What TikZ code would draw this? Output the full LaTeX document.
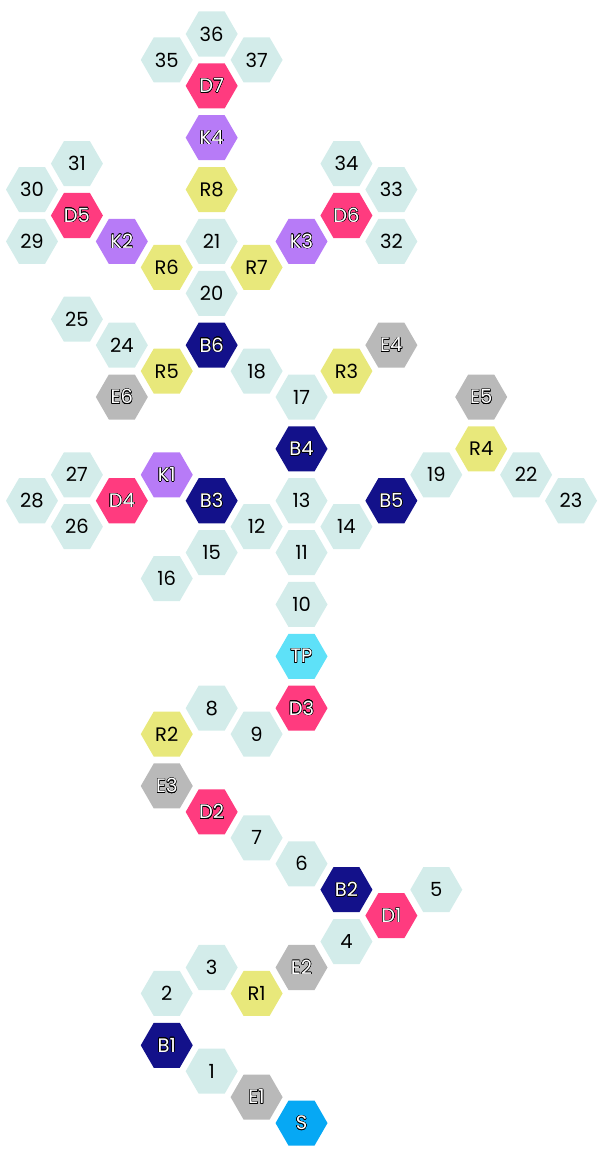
\documentclass[tikz,border=0pt]{standalone}
\usepackage{fontspec}
\setmainfont{Poppins}
\usepackage{contour}
\contourlength{0.45pt}
\usetikzlibrary{shapes.geometric}
\definecolor{cellpale}{HTML}{D3ECEA}
\definecolor{celldoor}{HTML}{FF3B7F}
\definecolor{cellkey}{HTML}{B77BF7}
\definecolor{cellroom}{HTML}{E8E87B}
\definecolor{cellboss}{HTML}{13118A}
\definecolor{cellexit}{HTML}{B9B9B9}
\definecolor{celltp}{HTML}{5EE1F8}
\definecolor{cellstart}{HTML}{06A8F4}
\tikzset{
  hexcell/.style={regular polygon, regular polygon sides=6,
    minimum size=52pt, inner sep=0pt, font=\fontsize{19.5}{19.5}\selectfont},
  pale/.style={hexcell, fill=cellpale, text=black},
  plain/.style={hexcell, fill=#1, text=black},
  marked/.style={hexcell, fill=#1}
}
\newcommand{\outl}[1]{\contour{black}{\textcolor{white}{#1}}}

\begin{document}
\begin{tikzpicture}[x=1pt,y=-1pt]
  \useasboundingbox (0,0) rectangle (605,1153);
  % Draw the numbered cells
  \foreach \n/\c/\k in {36/4/0, 35/3/1, 37/5/1, 31/1/5, 30/0/6, 29/0/8, 21/4/8,
      34/7/5, 33/8/6, 32/8/8, 20/4/10, 25/1/11, 24/2/12, 18/5/13, 17/6/14,
      19/9/17, 22/11/17, 23/12/18, 27/1/17, 28/0/18, 13/6/18, 12/5/19,
      14/7/19, 26/1/19, 15/4/20, 11/6/20, 16/3/21, 10/6/22, 8/4/26, 9/5/27,
      7/5/31, 6/6/32, 5/9/33, 4/7/35, 3/4/36, 2/3/37, 1/4/40}{
    \node[pale] (n\n) at ({32+44.92*\c},{34+25.93*\k}) {\n};
  }
  % Draw the rooms
  \foreach \n/\c/\k in {R8/4/6, R6/3/9, R7/5/9, R5/3/13, R3/7/13, R4/10/16,
      R2/3/27, R1/5/37}{
    \node[plain=cellroom] (\n) at ({32+44.92*\c},{34+25.93*\k}) {\n};
  }
  % Draw the doors and keys
  \foreach \n/\c/\k in {D7/4/2, D5/1/7, D6/7/7, D4/2/18, D3/6/26, D2/4/30, D1/8/34}{
    \node[marked=celldoor] (\n) at ({32+44.92*\c},{34+25.93*\k}) {\outl{\n}};
  }
  \foreach \n/\c/\k in {K4/4/4, K2/2/8, K3/6/8, K1/3/17}{
    \node[marked=cellkey] (\n) at ({32+44.92*\c},{34+25.93*\k}) {\outl{\n}};
  }
  % Draw the bosses and the ends
  \foreach \n/\c/\k in {B6/4/12, B4/6/16, B3/4/18, B5/8/18, B2/7/33, B1/3/39}{
    \node[marked=cellboss] (\n) at ({32+44.92*\c},{34+25.93*\k}) {\outl{\n}};
  }
  \foreach \n/\c/\k in {E4/8/12, E6/2/14, E5/10/14, E3/3/29, E2/6/36, E1/5/41}{
    \node[marked=cellexit] (\n) at ({32+44.92*\c},{34+25.93*\k}) {\outl{\n}};
  }
  \node[marked=celltp] (TP) at ({32+44.92*6},{34+25.93*24}) {\outl{TP}};
  \node[marked=cellstart] (S) at ({32+44.92*6},{34+25.93*42}) {\outl{S}};
\end{tikzpicture}
\end{document}
